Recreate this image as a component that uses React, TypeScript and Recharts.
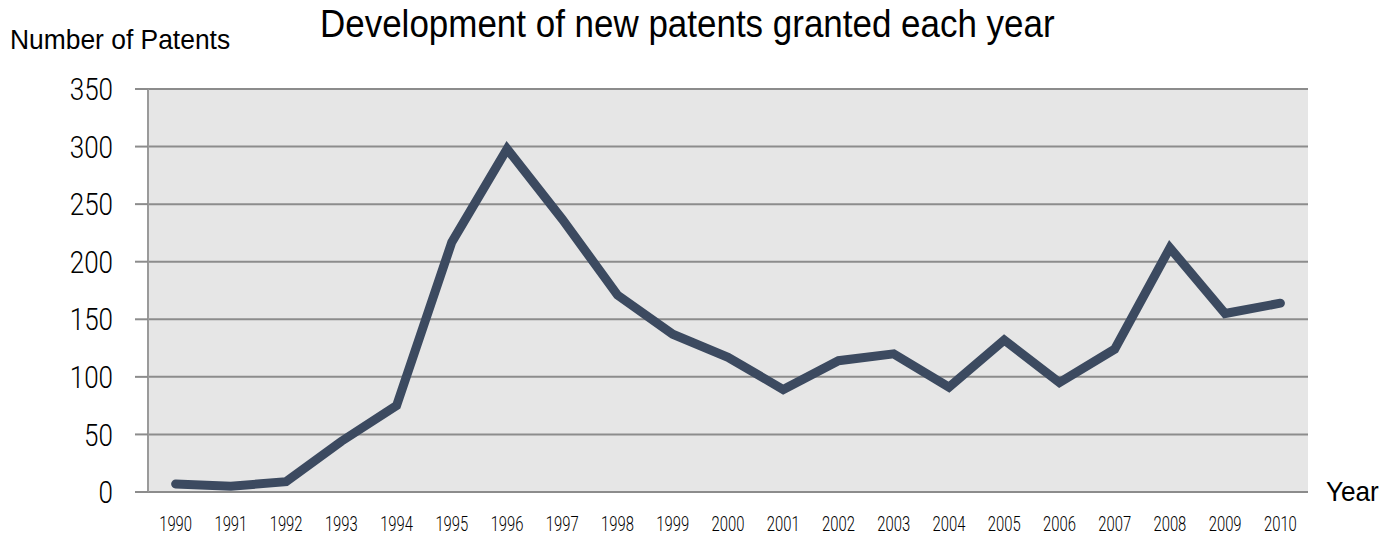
import React from "react";
import {
  LineChart,
  Line,
  XAxis,
  YAxis,
  CartesianGrid,
} from "recharts";

// values
const years = [
  1990, 1991, 1992, 1993, 1994, 1995, 1996, 1997, 1998, 1999, 2000, 2001,
  2002, 2003, 2004, 2005, 2006, 2007, 2008, 2009, 2010,
];
const patents = [
  7, 5, 9, 44, 75, 217, 298, 237, 171, 137, 117, 89, 114, 120, 91, 132, 95,
  124, 212, 155, 164,
];
const yTicks = [0, 50, 100, 150, 200, 250, 300, 350];

const data = years.map((year, i) => ({ year, patents: patents[i] }));
const boundaries = [...years.map((y) => y - 0.5), years[years.length - 1] + 0.5];
const xDomain = [years[0] - 0.5, years[years.length - 1] + 0.5];

const sans = "'Liberation Sans', Arial, sans-serif";

// condensed thin digits, squeezed horizontally
const YTick = (props: any) => {
  const { x, y, payload } = props;
  return (
    <text
      transform={`translate(${x},${y}) scale(0.84,1)`}
      textAnchor="end"
      dy="0.36em"
      fontFamily="Roboto"
      fontWeight={300}
      fontSize={31}
      fill="#000"
    >
      {payload.value}
    </text>
  );
};

const XTick = (props: any) => {
  const { x, y, payload } = props;
  return (
    <text
      transform={`translate(${x},${y}) scale(0.76,1)`}
      textAnchor="middle"
      dy="0.71em"
      fontFamily="Roboto"
      fontWeight={300}
      fontSize={19.5}
      fill="#000"
    >
      {payload.value}
    </text>
  );
};

const label = (left: number, top: number, size: number, sx: number) => ({
  position: "absolute" as const,
  left,
  top,
  fontFamily: sans,
  fontSize: size,
  color: "#000",
  whiteSpace: "nowrap" as const,
  transform: `scaleX(${sx})`,
  transformOrigin: "left top",
});

const App = () => {
  return (
    <div style={{ position: "absolute", left: 0, top: 0, width: 1379, height: 538, background: "#fff" }}>
      <div style={label(320, 3, 38, 0.92)}>
        Development of new patents granted each year
      </div>
      <div style={label(10, 24, 27.5, 0.96)}>Number of Patents</div>
      <div style={label(1326, 476, 27.5, 0.95)}>Year</div>
      <LineChart
        width={1379}
        height={538}
        data={data}
        margin={{ top: 89, right: 71, left: 88, bottom: 0 }}
      >
        <CartesianGrid
          vertical={false}
          fill="#e6e6e6"
          stroke="#8c8c8c"
          strokeWidth={2}
          yAxisId="y"
          xAxisId="label"
        />
        <XAxis
          xAxisId="grid"
          dataKey="year"
          type="number"
          domain={xDomain}
          ticks={boundaries}
          tick={false}
          tickSize={8}
          axisLine={{ stroke: "#9a9a9a", strokeWidth: 2 }}
          tickLine={{ stroke: "#9a9a9a", strokeWidth: 2 }}
          height={0}
        />
        <XAxis
          xAxisId="label"
          dataKey="year"
          type="number"
          domain={xDomain}
          ticks={years}
          interval={0}
          axisLine={false}
          tickLine={false}
          tickSize={0}
          tickMargin={25}
          height={46}
          tick={<XTick />}
        />
        <YAxis
          yAxisId="y"
          width={60}
          domain={[0, 350]}
          ticks={yTicks}
          interval={0}
          tickSize={13}
          tickMargin={22}
          axisLine={{ stroke: "#9a9a9a", strokeWidth: 2 }}
          tickLine={{ stroke: "#8c8c8c", strokeWidth: 2 }}
          tick={<YTick />}
        />
        <Line
          xAxisId="label"
          yAxisId="y"
          dataKey="patents"
          type="linear"
          stroke="#3c4a60"
          strokeWidth={9}
          strokeLinecap="round"
          strokeLinejoin="miter"
          dot={false}
          activeDot={false}
          isAnimationActive={false}
        />
      </LineChart>
    </div>
  );
};

export default App;
